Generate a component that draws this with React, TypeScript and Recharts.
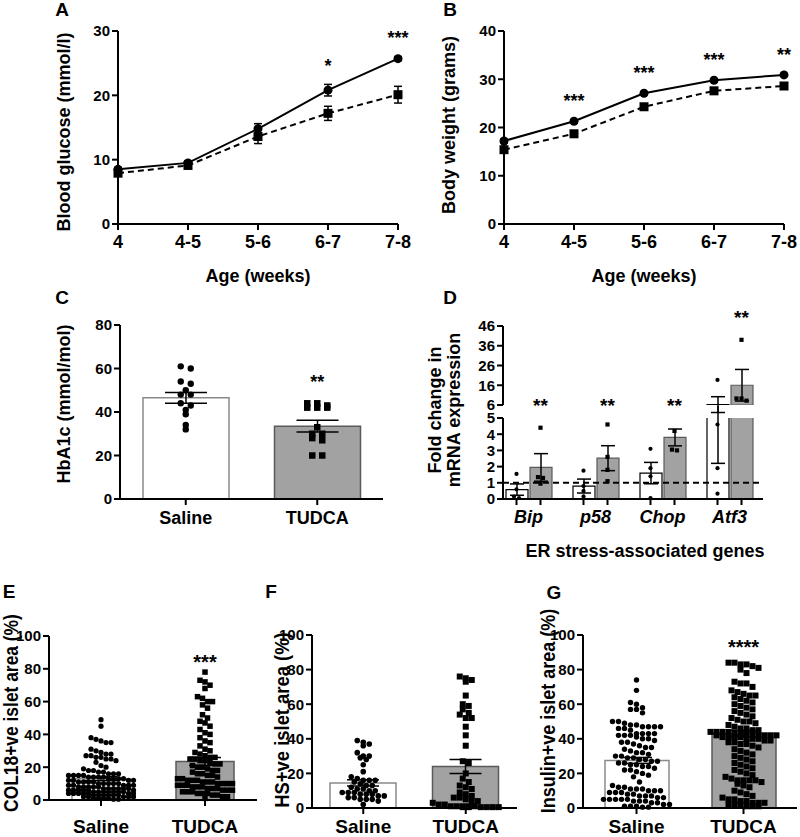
import {
  Bar,
  Cell,
  ComposedChart,
  ErrorBar,
  Line,
  LineChart,
  ReferenceDot,
  ReferenceLine,
  Scatter,
  XAxis,
  YAxis
} from "recharts";

const FONT = '"Liberation Sans", Arial, sans-serif';
const NARROW = '"Liberation Sans Narrow", "Liberation Sans", Arial, sans-serif';

// A / B – growth curves
const ages = ["4", "4-5", "5-6", "6-7", "7-8"];
const glucoseSaline = [8.5, 9.5, 14.8, 20.8, 25.7];
const glucoseSalineSem = [0.3, 0.3, 0.8, 0.9, 0.3];
const glucoseTudca = [7.9, 9.1, 13.6, 17.2, 20.1];
const glucoseTudcaSem = [0.3, 0.3, 1.1, 1.1, 1.3];
const glucoseStars = ["", "", "", "*", "***"];

const weightSaline = [17.2, 21.3, 27.1, 29.8, 30.9];
const weightSalineSem = [0.4, 0.3, 0.3, 0.3, 0.3];
const weightTudca = [15.4, 18.7, 24.3, 27.6, 28.6];
const weightTudcaSem = [0.4, 0.3, 0.3, 0.3, 0.3];
const weightStars = ["", "***", "***", "***", "**"];

// C – HbA1c
const groups = ["Saline", "TUDCA"];
const hba1cSaline = [61, 60, 54, 53, 50, 48, 48, 44, 43, 41, 39, 34, 32];
const hba1cTudca = [44, 44, 43, 42, 42, 42, 33, 30, 30, 28, 27, 20, 20];
const hba1cMean = [46.5, 33.5];
const hba1cSem = [2.5, 2.7];

// D – ER stress genes
const genes = ["Bip", "p58", "Chop", "Atf3"];
const geneSalineMean = [0.58, 0.8, 1.6, 6.2];
const geneSalineSem = [0.35, 0.43, 0.66, 4.0];
const geneTudcaMean = [1.95, 2.52, 3.8, 16.0];
const geneTudcaSem = [0.85, 0.77, 0.52, 8.0];
const geneSalinePts = [
  [1.55, 0.6, 0.15, 0.05],
  [1.75, 0.8, 0.5, 0.16],
  [3.1, 1.9, 1.4, 0.06],
  [18.7, 4.6, 1.9, 0.33]
];
const geneTudcaPts = [
  [4.4, 1.35, 1.3, 0.95],
  [4.6, 2.6, 1.8, 1.1],
  [4.2, 3.05, 3.0],
  [39, 9.3, 9.3, 8.2]
];

// E – COL18
const colSaline = [
  49, 45, 38, 37, 36, 35, 35, 31, 30, 29, 28, 28, 27, 27, 26, 26, 25, 25, 24, 23, 21, 20, 19, 18, 18, 17, 17, 16,
  16, 16, 15, 15, 15, 15, 14, 14, 14, 14, 13, 13, 13, 13, 12, 12, 12, 12, 11, 11, 11, 11, 10, 10, 10, 10, 10, 9, 9,
  9, 9, 9, 8, 8, 8, 8, 8, 7, 7, 7, 7, 7, 7, 6, 6, 6, 6, 6, 6, 5, 5, 5, 5, 5, 5, 5, 4, 4, 4, 4, 4, 4, 4, 3, 3, 3, 3,
  3, 3, 2, 2, 2, 2, 2, 1, 1, 1, 1, 0.5, 0.5
];
const colTudca = [
  78, 73, 72, 70, 68, 63, 62, 60, 60, 58, 56, 52, 50, 48, 47, 45, 43, 41, 40, 38, 36, 35, 33, 31, 30, 29, 28, 27,
  26, 26, 25, 25, 24, 24, 23, 22, 22, 21, 20, 20, 19, 18, 18, 17, 16, 16, 15, 15, 14, 13, 13, 12, 12, 12, 11, 11, 11,
  10, 10, 10, 10, 9, 9, 9, 8, 8, 8, 7, 7, 7, 6, 6, 6, 5, 5, 5, 4, 4, 4, 3, 3, 2, 2, 1
];
const colMean = [13, 23.5];
const colSem = [1.2, 2.4];

// F – HS
const hsSaline = [
  39, 38, 37, 36, 32, 30, 30, 29, 28, 25, 21, 18, 17, 16, 16, 16, 15, 14, 13, 13, 12, 11, 11, 10, 10, 9, 9, 9, 8, 8,
  8, 7, 7, 6, 6, 5, 5, 5, 4, 2
];
const hsTudca = [
  76, 75, 74, 73, 65, 60, 59, 57, 55, 54, 52, 52, 47, 42, 36, 27, 26, 20, 17, 15, 13, 12, 11, 9, 8, 7, 6, 6, 5, 4, 4,
  3, 2, 2, 1, 1, 1, 1, 1, 0.5, 0.5, 0.5, 0.5, 0.5, 0.5
];
const hsMean = [14.5, 24];
const hsSem = [1.8, 4.1];

// G – insulin
const insSaline = [
  74, 68, 61, 60, 58, 57, 57, 55, 50, 50, 49, 48, 48, 47, 47, 47, 47, 46, 46, 45, 43, 43, 43, 43, 42, 42, 42, 41, 40,
  40, 39, 38, 38, 37, 36, 35, 35, 34, 33, 32, 32, 31, 30, 30, 29, 29, 28, 28, 27, 27, 26, 26, 25, 25, 24, 24, 23, 22,
  22, 21, 20, 19, 18, 15, 13, 12, 12, 11, 11, 11, 10, 10, 10, 9, 9, 9, 8, 8, 7, 7, 7, 6, 6, 5, 5, 5, 5, 5, 4, 4, 4, 3,
  3, 2, 2, 1, 1, 1, 0.5, 0.5
];
const insTudca = [
  84, 84, 83, 83, 82, 81, 80, 78, 73, 72, 72, 70, 68, 67, 66, 65, 65, 64, 63, 62, 61, 60, 59, 58, 57, 56, 55, 54, 53,
  52, 51, 50, 50, 49, 48, 47, 46, 46, 45, 45, 44, 44, 44, 44, 43, 43, 43, 43, 42, 42, 42, 42, 42, 41, 41, 41, 41, 40,
  40, 40, 39, 39, 38, 38, 37, 37, 36, 35, 34, 33, 32, 31, 30, 29, 28, 27, 26, 25, 24, 23, 22, 21, 20, 19, 18, 17, 16,
  16, 16, 16, 15, 14, 13, 12, 10, 9, 8, 7, 6, 5, 5, 4, 4, 3, 3, 3, 2, 2, 2, 1, 1, 1
];
const insMean = [27.5, 43];
const insSem = [1.7, 1.9];

type Pt = { x: number; v: number; s: number };

// prism-like column scatter: rows of close values, centred on the column
function swarm(values: number[], center: number, s: number, ppuY: number, ppuX: number, rowPx: number, gapPx: number, maxRow: number): Pt[] {
  const sorted = [...values].sort((a, b) => b - a);
  const out: Pt[] = [];
  let i = 0;
  while (i < sorted.length) {
    let j = i;
    while (j < sorted.length && j - i < maxRow && (sorted[i] - sorted[j]) * ppuY <= rowPx) j++;
    const n = j - i;
    for (let k = 0; k < n; k++) {
      out.push({ x: center + ((k - (n - 1) / 2) * gapPx) / ppuX, v: sorted[i + k], s });
    }
    i = j;
  }
  return out;
}

function frame(x0: number, y0: number, x1: number, y1: number, l: number, t: number, r: number, b: number) {
  return {
    pos: { position: "absolute" as const, left: x0 - l, top: y0 - t },
    width: x1 - x0 + l + r,
    height: y1 - y0 + t + b
  };
}

function range(max: number, step: number, min = 0) {
  const out: number[] = [];
  for (let v = min; v <= max; v += step) out.push(v);
  return out;
}

function Txt({ x, y, size, children, rotate, family, squeeze }: any) {
  return (
    <div
      style={{
        position: "absolute",
        left: x,
        top: y,
        transform: `translate(-50%, -50%)${rotate ? " rotate(-90deg)" : ""}${squeeze ? ` scaleX(${squeeze})` : ""}`,
        fontSize: size,
        fontWeight: 700,
        fontFamily: family ?? FONT,
        whiteSpace: "nowrap",
        lineHeight: 1.08,
        textAlign: "center",
        color: "#000"
      }}
    >
      {children}
    </div>
  );
}

const axisStroke = { stroke: "#000", strokeWidth: 2 };

function dotShape(r: number, sq: number) {
  return (p: any) =>
    p.payload.s === 0 ? (
      <circle cx={p.cx} cy={p.cy} r={r} fill="#000" />
    ) : (
      <rect x={p.cx - sq / 2} y={p.cy - sq / 2} width={sq} height={sq} fill="#000" />
    );
}

function starLabel(text: string, size: number) {
  return { value: text, position: "center" as const, fill: "#000", fontSize: size, fontWeight: 700, fontFamily: FONT };
}

function GrowthPanel({ x0, x1, max, step, sal, salSem, tud, tudSem, stars }: any) {
  const y0 = 31;
  const y1 = 224;
  const f = frame(x0, y0, x1, y1, 56, 30, 16, 50);
  const ppu = (y1 - y0) / max;
  const rows = ages.map((age, i) => ({ age, sal: sal[i], salSem: salSem[i], tud: tud[i], tudSem: tudSem[i] }));
  return (
    <div style={f.pos}>
      <LineChart width={f.width} height={f.height} data={rows} margin={{ top: 30, right: 16, left: 0, bottom: 0 }}>
        <XAxis
          dataKey="age"
          scale="point"
          padding={{ left: 0, right: 0 }}
          height={50}
          interval={0}
          axisLine={axisStroke}
          tickLine={axisStroke}
          tickSize={6}
          tickMargin={5}
          tick={{ fill: "#000", fontSize: 18, fontWeight: 700, fontFamily: FONT }}
        />
        <YAxis
          domain={[0, max]}
          ticks={range(max, step)}
          interval={0}
          width={56}
          axisLine={axisStroke}
          tickLine={axisStroke}
          tickSize={6}
          tickMargin={2}
          tick={{ fill: "#000", fontSize: 15, fontWeight: 700, fontFamily: FONT }}
        />
        <Line
          dataKey="tud"
          type="linear"
          stroke="#000"
          strokeWidth={2}
          strokeDasharray="6 4"
          isAnimationActive={false}
          dot={(p: any) => <rect key={`s${p.index}`} x={p.cx - 4.5} y={p.cy - 4.5} width={9} height={9} fill="#000" />}
        >
          <ErrorBar dataKey="tudSem" direction="y" width={4} stroke="#000" strokeWidth={1.5} />
        </Line>
        <Line
          dataKey="sal"
          type="linear"
          stroke="#000"
          strokeWidth={2}
          isAnimationActive={false}
          dot={(p: any) => <circle key={`c${p.index}`} cx={p.cx} cy={p.cy} r={4.5} fill="#000" />}
        >
          <ErrorBar dataKey="salSem" direction="y" width={4} stroke="#000" strokeWidth={1.5} />
        </Line>
        {stars.map((s: string, i: number) =>
          s ? (
            <ReferenceDot
              key={i}
              x={ages[i]}
              y={sal[i] + salSem[i] + 19 / ppu}
              r={0}
              ifOverflow="visible"
              label={starLabel(s, 18)}
            />
          ) : null
        )}
      </LineChart>
    </div>
  );
}

function DotBarPanel({ box, pad, max, step, means, sems, pts, barSize, cap, r, sq, rowPx, gapPx, maxRow, star, starY, starSize, tickFont, catSize, catMargin }: any) {
  const [x0, y0, x1, y1] = box;
  const [l, t, rr, b] = pad;
  const f = frame(x0, y0, x1, y1, l, t, rr, b);
  const ppuY = (y1 - y0) / max;
  const ppuX = (x1 - x0) / 2;
  const rows = groups.map((g, i) => ({ g, mean: means[i], sem: sems[i] }));
  const dots = [
    ...swarm(pts[0], 0.5, 0, ppuY, ppuX, rowPx, gapPx, maxRow),
    ...swarm(pts[1], 1.5, 1, ppuY, ppuX, rowPx, gapPx, maxRow)
  ];
  return (
    <div style={f.pos}>
      <ComposedChart width={f.width} height={f.height} data={rows} margin={{ top: t, right: rr, left: 0, bottom: 0 }}>
        <XAxis
          xAxisId="cat"
          dataKey="g"
          height={b}
          interval={0}
          axisLine={axisStroke}
          tickLine={axisStroke}
          tickSize={6}
          tickMargin={catMargin}
          tick={{ fill: "#000", fontSize: catSize, fontWeight: 700, fontFamily: FONT }}
        />
        <XAxis xAxisId="num" type="number" dataKey="x" domain={[0, 2]} hide />
        <YAxis
          yAxisId="l"
          domain={[0, max]}
          ticks={range(max, step)}
          interval={0}
          width={l}
          axisLine={axisStroke}
          tickLine={axisStroke}
          tickSize={6}
          tickMargin={2}
          tick={{ fill: "#000", fontSize: 15, fontWeight: 700, fontFamily: tickFont }}
        />
        <YAxis yAxisId="s" dataKey="v" domain={[0, max]} hide />
        <Bar xAxisId="cat" yAxisId="l" dataKey="mean" barSize={barSize} isAnimationActive={false}>
          {rows.map((_, i) => (
            <Cell key={i} fill={i ? "#a2a2a2" : "#ffffff"} stroke={i ? "#5a5a5a" : "#8a8a8a"} strokeWidth={1.5} />
          ))}
          <ErrorBar dataKey="sem" direction="y" width={cap} stroke="#000" strokeWidth={1.5} />
        </Bar>
        <Scatter xAxisId="num" yAxisId="s" data={dots} dataKey="v" shape={dotShape(r, sq)} isAnimationActive={false} />
        {star ? (
          <ReferenceDot xAxisId="cat" yAxisId="l" x="TUDCA" y={starY} r={0} ifOverflow="visible" label={starLabel(star, starSize)} />
        ) : null}
      </ComposedChart>
    </div>
  );
}

function GeneTick(props: any) {
  const { x, y, payload } = props;
  return (
    <g>
      <line x1={x - 12} x2={x - 12} y1={y} y2={y + 6} stroke="#000" strokeWidth={2} />
      <line x1={x + 12} x2={x + 12} y1={y} y2={y + 6} stroke="#000" strokeWidth={2} />
      <text x={x} y={y + 11} dy="0.71em" textAnchor="middle" fill="#000" fontSize={18} fontWeight={700} fontStyle="italic" fontFamily={FONT}>
        {payload.value}
      </text>
    </g>
  );
}

function GenePanel() {
  const x0 = 503;
  const x1 = 763;
  const upper = { y0: 326, y1: 405, min: 6, max: 46 };
  const lower = { y0: 418, y1: 499, min: 0, max: 5 };
  const pxX = (x1 - x0 + 8) / 4;
  const shift = 12 / pxX;
  const padX = { left: -8, right: 0 };
  const rowsUp = genes.map((g, i) => ({
    g,
    sal: geneSalineMean[i] >= 6 ? geneSalineMean[i] : null,
    salSem: geneSalineMean[i] >= 6 ? geneSalineSem[i] : null,
    tud: geneTudcaMean[i] >= 6 ? geneTudcaMean[i] : null,
    tudSem: geneTudcaMean[i] >= 6 ? geneTudcaSem[i] : null
  }));
  const rowsLow = genes.map((g, i) => ({
    g,
    sal: geneSalineMean[i],
    salSem: geneSalineSem[i],
    tud: geneTudcaMean[i],
    tudSem: geneTudcaSem[i]
  }));
  const ppuUp = (upper.y1 - upper.y0) / (upper.max - upper.min);
  const ppuLow = (lower.y1 - lower.y0) / (lower.max - lower.min);
  const allPts = (ppu: number, keep: (v: number) => boolean) =>
    genes.flatMap((_, i) => [
      ...swarm(geneSalinePts[i].filter(keep), i + 0.5 - shift, 0, ppu, pxX, 3, 5, 6),
      ...swarm(geneTudcaPts[i].filter(keep), i + 0.5 + shift, 1, ppu, pxX, 3, 5, 6)
    ]);
  const ptsUp = allPts(ppuUp, (v) => v >= 6);
  const ptsLow = allPts(ppuLow, (v) => v <= 5);
  const fu = frame(x0, upper.y0, x1, upper.y1, 56, 24, 30, 14);
  const fl = frame(x0, lower.y0, x1, lower.y1, 56, 12, 30, 45);
  const yTick = { fill: "#000", fontSize: 15, fontWeight: 700, fontFamily: FONT };
  const bars = (cat: string) => [
    <Bar key="a" xAxisId={cat} yAxisId="l" dataKey="sal" fill="#fff" stroke="#000" strokeWidth={1.2} isAnimationActive={false}>
      <ErrorBar dataKey="salSem" direction="y" width={7} stroke="#000" strokeWidth={1.5} />
    </Bar>,
    <Bar key="b" xAxisId={cat} yAxisId="l" dataKey="tud" fill="#a2a2a2" stroke="#5a5a5a" strokeWidth={1.2} isAnimationActive={false}>
      <ErrorBar dataKey="tudSem" direction="y" width={7} stroke="#000" strokeWidth={1.5} />
    </Bar>
  ];
  return (
    <>
      <div style={fu.pos}>
        <ComposedChart width={fu.width} height={fu.height} data={rowsUp} barSize={22} barGap={2} margin={{ top: 24, right: 30, left: 0, bottom: 14 }}>
          <XAxis xAxisId="cat" dataKey="g" padding={padX} hide />
          <XAxis xAxisId="num" type="number" dataKey="x" domain={[0, 4]} padding={padX} hide />
          <YAxis
            yAxisId="l"
            domain={[upper.min, upper.max]}
            ticks={range(upper.max, 10, upper.min)}
            interval={0}
            allowDataOverflow
            width={56}
            axisLine={axisStroke}
            tickLine={axisStroke}
            tickSize={6}
            tickMargin={2}
            tick={yTick}
          />
          <YAxis yAxisId="s" dataKey="v" domain={[upper.min, upper.max]} allowDataOverflow hide />
          {bars("cat")}
          <Scatter xAxisId="num" yAxisId="s" data={ptsUp} dataKey="v" shape={dotShape(2.1, 4.2)} isAnimationActive={false} />
          {genes.map((g, i) => (
            <ReferenceDot
              key={g}
              xAxisId="num"
              yAxisId="l"
              x={i + 0.5 + shift}
              y={i === 3 ? 50.5 : 5.7}
              r={0}
              ifOverflow="visible"
              label={starLabel("**", 19)}
            />
          ))}
        </ComposedChart>
      </div>
      <div style={fl.pos}>
        <ComposedChart width={fl.width} height={fl.height} data={rowsLow} barSize={22} barGap={2} margin={{ top: 12, right: 30, left: 0, bottom: 0 }}>
          <XAxis
            xAxisId="cat"
            dataKey="g"
            padding={padX}
            height={45}
            interval={0}
            axisLine={axisStroke}
            tickLine={false}
            tickSize={0}
            tickMargin={0}
            tick={<GeneTick />}
          />
          <XAxis xAxisId="num" type="number" dataKey="x" domain={[0, 4]} padding={padX} hide />
          <YAxis
            yAxisId="l"
            domain={[lower.min, lower.max]}
            ticks={range(lower.max, 1)}
            interval={0}
            allowDataOverflow
            width={56}
            axisLine={axisStroke}
            tickLine={axisStroke}
            tickSize={6}
            tickMargin={2}
            tick={yTick}
          />
          <YAxis yAxisId="s" dataKey="v" domain={[lower.min, lower.max]} allowDataOverflow hide />
          {bars("cat")}
          <ReferenceLine xAxisId="cat" yAxisId="l" y={1} stroke="#000" strokeWidth={2} strokeDasharray="6 4" />
          <Scatter xAxisId="num" yAxisId="s" data={ptsLow} dataKey="v" shape={dotShape(2.1, 4.2)} isAnimationActive={false} />
        </ComposedChart>
      </div>
    </>
  );
}

export default function App() {
  return (
    <div style={{ position: "absolute", left: 0, top: 0, width: 800, height: 837, background: "#fff", overflow: "hidden" }}>
      <Txt x={62} y={10} size={19}>A</Txt>
      <Txt x={450} y={10} size={19}>B</Txt>
      <Txt x={62} y={298} size={19}>C</Txt>
      <Txt x={450} y={298} size={19}>D</Txt>
      <Txt x={9} y={592} size={19}>E</Txt>
      <Txt x={271} y={592} size={19}>F</Txt>
      <Txt x={554} y={593} size={19}>G</Txt>

      <GrowthPanel
        x0={118}
        x1={398}
        max={30}
        step={10}
        sal={glucoseSaline}
        salSem={glucoseSalineSem}
        tud={glucoseTudca}
        tudSem={glucoseTudcaSem}
        stars={glucoseStars}
      />
      <Txt x={65} y={132} size={18} rotate>Blood glucose (mmol/l)</Txt>
      <Txt x={258} y={277} size={18}>Age (weeks)</Txt>

      <GrowthPanel
        x0={504}
        x1={784}
        max={40}
        step={10}
        sal={weightSaline}
        salSem={weightSalineSem}
        tud={weightTudca}
        tudSem={weightTudcaSem}
        stars={weightStars}
      />
      <Txt x={450} y={125} size={18} rotate>Body weight (grams)</Txt>
      <Txt x={644} y={277} size={18}>Age (weeks)</Txt>

      <DotBarPanel
        box={[120, 325, 383, 499]}
        pad={[56, 60, 10, 40]}
        max={80}
        step={20}
        means={hba1cMean}
        sems={hba1cSem}
        pts={[hba1cSaline, hba1cTudca]}
        barSize={86}
        cap={21}
        r={3.2}
        sq={6.5}
        rowPx={4}
        gapPx={10}
        maxRow={4}
        star="**"
        starY={54}
        starSize={18}
        tickFont={FONT}
        catSize={18}
        catMargin={6}
      />
      <Txt x={65} y={404} size={18} rotate>HbA1c (mmol/mol)</Txt>

      <GenePanel />
      <Txt x={445} y={410} size={18} rotate>
        Fold change in
        <br />
        mRNA expression
      </Txt>
      <Txt x={645} y={552} size={18}>ER stress-associated genes</Txt>

      <DotBarPanel
        box={[49, 636, 257, 800]}
        pad={[40, 30, 10, 37]}
        max={100}
        step={20}
        means={colMean}
        sems={colSem}
        pts={[colSaline, colTudca]}
        barSize={58}
        cap={16}
        r={2.6}
        sq={5.5}
        rowPx={5}
        gapPx={5}
        maxRow={14}
        star="***"
        starY={84.4}
        starSize={20}
        tickFont={NARROW}
        catSize={19}
        catMargin={14}
      />
      <Txt x={12} y={713} size={20} rotate squeeze={0.87}>COL18+ve islet area (%)</Txt>

      <DotBarPanel
        box={[312, 635, 517, 808]}
        pad={[40, 10, 10, 29]}
        max={100}
        step={20}
        means={hsMean}
        sems={hsSem}
        pts={[hsSaline, hsTudca]}
        barSize={66}
        cap={16}
        r={2.8}
        sq={6}
        rowPx={5}
        gapPx={6}
        maxRow={12}
        star=""
        starY={0}
        starSize={20}
        tickFont={NARROW}
        catSize={19}
        catMargin={6}
      />
      <Txt x={283} y={720} size={20} rotate squeeze={0.92}>HS+ve islet area (%)</Txt>

      <DotBarPanel
        box={[583, 635, 797, 808]}
        pad={[40, 10, 3, 29]}
        max={100}
        step={20}
        means={insMean}
        sems={insSem}
        pts={[insSaline, insTudca]}
        barSize={64}
        cap={15}
        r={2.7}
        sq={6}
        rowPx={6}
        gapPx={6}
        maxRow={12}
        star="****"
        starY={93.3}
        starSize={20}
        tickFont={NARROW}
        catSize={19}
        catMargin={6}
      />
      <Txt x={549} y={711} size={20} rotate squeeze={0.9}>Insulin+ve islet area (%)</Txt>
    </div>
  );
}
